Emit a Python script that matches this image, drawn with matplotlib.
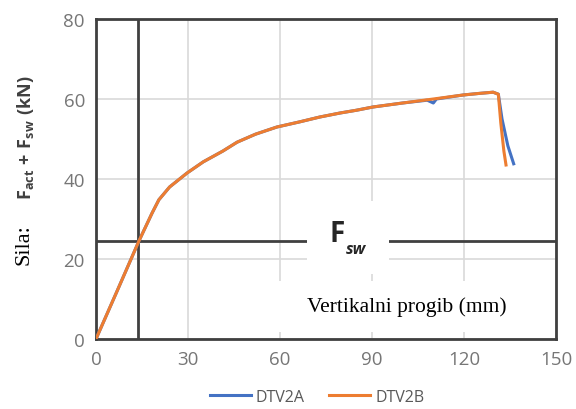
import matplotlib
matplotlib.use("Agg")
import matplotlib.pyplot as plt
from matplotlib.patches import Rectangle

plt.rcParams['mathtext.fontset'] = 'custom'
plt.rcParams['mathtext.rm'] = 'Open Sans'
plt.rcParams['mathtext.bf'] = 'Open Sans:bold'
plt.rcParams['mathtext.it'] = 'Open Sans:italic'

# Data: deflection (mm) vs force (kN)
x_a = [0, 7, 14.0, 18.3, 20.5, 24, 29.7, 35, 41.4, 46, 52, 59, 66.5, 73, 79.6, 85, 90.3, 100, 108, 110, 111, 119.7, 125, 129.5, 131.2, 132.4, 134.3, 136.2]
y_a = [0, 12.2, 24.5, 31.5, 34.8, 38.0, 41.5, 44.3, 47.0, 49.2, 51.2, 53.0, 54.3, 55.5, 56.5, 57.2, 58.0, 59.0, 59.7, 59.0, 60.0, 61.0, 61.4, 61.7, 61.2, 55.0, 48.3, 43.8]
x_b = [0, 7, 14.0, 18.3, 20.5, 24, 29.7, 35, 41.4, 46, 52, 59, 66.5, 73, 79.6, 85, 90.3, 100, 110, 119.7, 125, 129.5, 131.2, 132.0, 133.0, 133.7]
y_b = [0, 12.2, 24.5, 31.5, 34.8, 38.0, 41.5, 44.3, 47.0, 49.2, 51.2, 53.0, 54.3, 55.5, 56.5, 57.2, 58.0, 59.0, 60.0, 61.0, 61.4, 61.7, 61.2, 54.0, 47.0, 43.5]
x_ticks = [0, 30, 60, 90, 120, 150]
y_ticks = [0, 20, 40, 60, 80]
x_sw = 13.7
f_sw = 24.5

fig = plt.figure(figsize=(5.76, 4.10), dpi=100)
ax = fig.add_axes([96/576, 1-340/410, 460/576, 320/410])
ax.set_xlim(0, 150)
ax.set_ylim(0, 80)
ax.set_xticks(x_ticks)
ax.set_yticks(y_ticks)
ax.grid(True, color='#d9d9d9', lw=1.2, zorder=0)
ax.set_axisbelow(True)
for s in ax.spines.values():
    s.set_color('#404040')
    s.set_linewidth(2)
ax.tick_params(length=0, labelsize=13.5, labelcolor='#767676', pad=8)
for lab in ax.get_xticklabels() + ax.get_yticklabels():
    lab.set_fontfamily('Open Sans')

ax.axvline(x_sw, color='#404040', lw=2, zorder=2)
ax.axhline(f_sw, color='#404040', lw=2, zorder=2)

# white patches
ax.add_patch(Rectangle((307, 410-275), 82, 73, transform=None, facecolor='white', edgecolor='none', zorder=3))
ax.add_patch(Rectangle((200, 410-333), 355, 51, transform=None, facecolor='white', edgecolor='none', zorder=3))

ax.plot(x_a, y_a, color='#4472C4', lw=2.2, label='DTV2A', zorder=4)
ax.plot(x_b, y_b, color='#ED7D31', lw=2.2, label='DTV2B', zorder=5)

fig.text(330/576, 1-242/410, 'F', fontsize=20, family='Open Sans', weight='bold', ha='left', va='baseline', color='#262626')
fig.text(346/576, 1-254/410, 'sw', fontsize=11.5, family='Open Sans', weight='bold', style='italic', ha='left', va='baseline', color='#262626')
fig.text(407/576, 1-307/410, 'Vertikalni progib (mm)', fontsize=15.5, family='Liberation Serif', ha='center', va='center', color='black')
fig.text(24/576, 1-245/410, 'Sila:', fontsize=16, family='Liberation Serif', rotation=90, ha='center', va='center', color='black')
fig.text(26/576, 1-138/410, r'$\mathbf{F_{act}}$ $\mathbf{+}$ $\mathbf{F_{sw}}$ $\mathbf{(kN)}$', fontsize=13, rotation=90, ha='center', va='center', color='#404040')

fig.legend(loc='center', bbox_to_anchor=(317/576, 12/410), ncol=2, frameon=False,
           prop={'family': 'Open Sans', 'size': 11.5}, labelcolor='#595959',
           handlelength=2.6, handletextpad=0.3, columnspacing=1.5)

fig.savefig('out.png', dpi=100)
